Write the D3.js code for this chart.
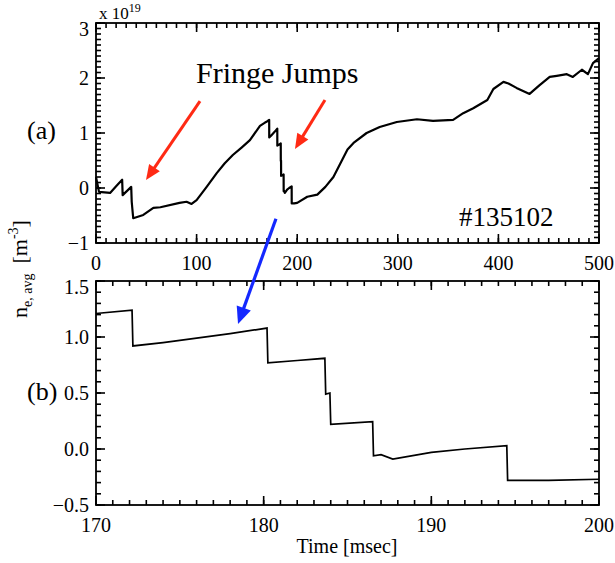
<!DOCTYPE html>
<html>
<head>
<meta charset="utf-8">
<script src="https://cdn.jsdelivr.net/npm/d3@7"></script>
<style>
body { margin: 0; background: #fff; }
</style>
</head>
<body>
<div id="chart"></div>
<script>
// line-averaged density, units of 1e19 m^-3
var timeMs = [0, 3, 14, 20, 26, 26.5, 35, 35.5, 37, 47, 57, 64, 83, 90, 95, 100,
	110, 120, 128, 136, 145, 153, 163, 168,
	170, 172.15, 172.2, 174, 176, 178, 180.2, 180.25, 182, 183.65, 183.7, 183.95, 184.0,
	186.5, 186.55, 187, 187.7, 190, 192, 194.5, 194.55, 197, 200,
	210, 220, 228, 236, 243, 250, 256, 269, 282, 299, 319, 335, 355, 365, 375,
	389, 395, 405, 410, 418, 431, 441, 451, 458, 468, 474, 483, 489, 494, 500];
var density = [0.20, -0.07, -0.09, 0.03, 0.15, -0.13, 0.02, -0.25, -0.55, -0.49, -0.36, -0.35, -0.27, -0.25, -0.29, -0.22,
	0.02, 0.27, 0.45, 0.60, 0.74, 0.87, 1.13, 1.19,
	1.21, 1.24, 0.92, 0.95, 0.99, 1.03, 1.08, 0.77, 0.79, 0.81, 0.49, 0.50, 0.22,
	0.245, -0.06, -0.05, -0.09, -0.03, 0.00, 0.03, -0.28, -0.28, -0.27,
	-0.16, -0.12, 0.02, 0.20, 0.45, 0.70, 0.82, 1.00, 1.11, 1.20, 1.25, 1.22, 1.24, 1.36, 1.45,
	1.60, 1.80, 1.93, 1.90, 1.82, 1.71, 1.87, 2.02, 2.04, 2.07, 2.02, 2.15, 2.07, 2.27, 2.36];

var topXTicks = [0, 100, 200, 300, 400, 500];
var topYTicks = [-1, 0, 1, 2, 3];
var botXTicks = [170, 180, 190, 200];
var botYTicks = [-0.5, 0.0, 0.5, 1.0, 1.5];

var W = 615, H = 563;
var svg = d3.select("#chart").append("svg")
	.attr("width", W)
	.attr("height", H)
	.style("font-family", "'Liberation Serif', 'Times New Roman', serif");

var left = 96, right = 599;

// scales for both panels
var xTop = d3.scaleLinear().domain([0, 500]).range([left, right]);
var yTop = d3.scaleLinear().domain([-1, 3]).range([243, 23]);
var xBot = d3.scaleLinear().domain([170, 200]).range([left, right]);
var yBot = d3.scaleLinear().domain([-0.5, 1.5]).range([505, 281]);

var points = timeMs.map(function (t, i) { return [t, density[i]]; });
var zoomPts = points.filter(function (d) { return d[0] >= 170 && d[0] <= 200; });

// inward ticks on all four sides (IDL style)
function ticks(g, x, y, xVals, yVals, len) {
	var y0 = y.range()[0], y1 = y.range()[1];
	var x0 = x.range()[0], x1 = x.range()[1];
	var segs = [];
	xVals.forEach(function (v) {
		segs.push([x(v), y0, x(v), y0 - len]);
		segs.push([x(v), y1, x(v), y1 + len]);
	});
	yVals.forEach(function (v) {
		segs.push([x0, y(v), x0 + len, y(v)]);
		segs.push([x1, y(v), x1 - len, y(v)]);
	});
	g.selectAll(null)
		.data(segs)
		.enter().append("line")
		.attr("x1", function (d) { return d[0]; })
		.attr("y1", function (d) { return d[1]; })
		.attr("x2", function (d) { return d[2]; })
		.attr("y2", function (d) { return d[3]; })
		.attr("stroke", "#000")
		.attr("stroke-width", 1.6);
}

function drawPanel(x, y, xTicks, yTicks, xMinor, yMinor, yFmt) {
	var g = svg.append("g");
	var y0 = y.range()[0], y1 = y.range()[1];
	var x0 = x.range()[0], x1 = x.range()[1];

	ticks(g, x, y, xMinor, yMinor, 5);
	ticks(g, x, y, xTicks, yTicks, 9);

	g.selectAll(".xl")
		.data(xTicks)
		.enter().append("text")
		.attr("x", function (d) { return x(d); })
		.attr("y", y0 + 27)
		.attr("text-anchor", "middle")
		.style("font-size", "20px")
		.text(d3.format("d"));

	g.selectAll(".yl")
		.data(yTicks)
		.enter().append("text")
		.attr("x", x0 - 7)
		.attr("y", function (d, i) { return y(d) + (i === yTicks.length - 1 ? 13 : 7); })
		.attr("text-anchor", "end")
		.style("font-size", "20px")
		.text(d3.format(yFmt));

	g.append("rect")
		.attr("x", x0).attr("y", y1)
		.attr("width", x1 - x0).attr("height", y0 - y1)
		.attr("fill", "none").attr("stroke", "#000").attr("stroke-width", 1.8);
	return g;
}

var topMinorX = d3.range(0, 501, 10);
var topMinorY = d3.range(-1, 3.001, 0.1).map(function (v) { return +v.toFixed(1); });
var botMinorX = d3.range(170, 200.01, 1);
var botMinorY = d3.range(-0.5, 1.501, 0.1).map(function (v) { return +v.toFixed(1); });

drawPanel(xTop, yTop, topXTicks, topYTicks, topMinorX, topMinorY, "d");
drawPanel(xBot, yBot, botXTicks, botYTicks, botMinorX, botMinorY, ".1f");

// traces
svg.append("path")
	.datum(points)
	.attr("fill", "none")
	.attr("stroke", "#000")
	.attr("stroke-width", 2.2)
	.attr("stroke-linejoin", "round")
	.attr("d", d3.line().x(function (d) { return xTop(d[0]); }).y(function (d) { return yTop(d[1]); }));

svg.append("path")
	.datum(zoomPts)
	.attr("fill", "none")
	.attr("stroke", "#000")
	.attr("stroke-width", 1.7)
	.attr("d", d3.line().x(function (d) { return xBot(d[0]); }).y(function (d) { return yBot(d[1]); }));

// arrows
function arrow(p0, p1, color, width, headLen, headW) {
	var dx = p1[0] - p0[0], dy = p1[1] - p0[1];
	var len = Math.sqrt(dx * dx + dy * dy);
	var ux = dx / len, uy = dy / len;
	var bx = p1[0] - ux * headLen, by = p1[1] - uy * headLen;
	svg.append("line")
		.attr("x1", p0[0]).attr("y1", p0[1])
		.attr("x2", bx + ux * 2).attr("y2", by + uy * 2)
		.attr("stroke", color).attr("stroke-width", width);
	svg.append("polygon")
		.attr("points", [
			[p1[0], p1[1]],
			[bx - uy * headW / 2, by + ux * headW / 2],
			[bx + uy * headW / 2, by - ux * headW / 2]
		].map(function (p) { return p.join(","); }).join(" "))
		.attr("fill", color);
}

var red = "#ff2a14", blue = "#1428ff";
arrow([xTop(103.4), yTop(1.58)], [xTop(49.7), yTop(0.145)], red, 3, 15, 13);
arrow([xTop(227.6), yTop(1.6)], [xTop(197.8), yTop(0.71)], red, 3, 15, 13);
arrow([xTop(178.9), yTop(-0.56)], [xBot(178.47), yBot(1.116)], blue, 3.2, 17, 15);

// text labels
svg.append("text").attr("x", 196).attr("y", 83)
	.style("font-size", "30px").text("Fringe Jumps");

svg.append("text").attr("x", 459).attr("y", 226)
	.style("font-size", "27px").text("#135102");

var e = svg.append("text").attr("x", 99).attr("y", 19).style("font-size", "17px");
e.append("tspan").text("x 10");
e.append("tspan").attr("dy", -7).style("font-size", "12px").text("19");

svg.append("text").attr("x", 27).attr("y", 139).style("font-size", "26px").text("(a)");
svg.append("text").attr("x", 27).attr("y", 400).style("font-size", "26px").text("(b)");

svg.append("text").attr("x", 347).attr("y", 553)
	.attr("text-anchor", "middle")
	.style("font-size", "20px").text("Time [msec]");

var yl = svg.append("text")
	.attr("transform", "translate(27,318) rotate(-90)")
	.style("font-size", "22px");
yl.append("tspan").text("n");
yl.append("tspan").attr("dy", 5).style("font-size", "14px").text("e, avg");
yl.append("tspan").attr("dy", -5).attr("dx", 10).text("[m");
yl.append("tspan").attr("dy", -9).style("font-size", "14px").text("-3");
yl.append("tspan").attr("dy", 9).text("]");
</script>
</body>
</html>
